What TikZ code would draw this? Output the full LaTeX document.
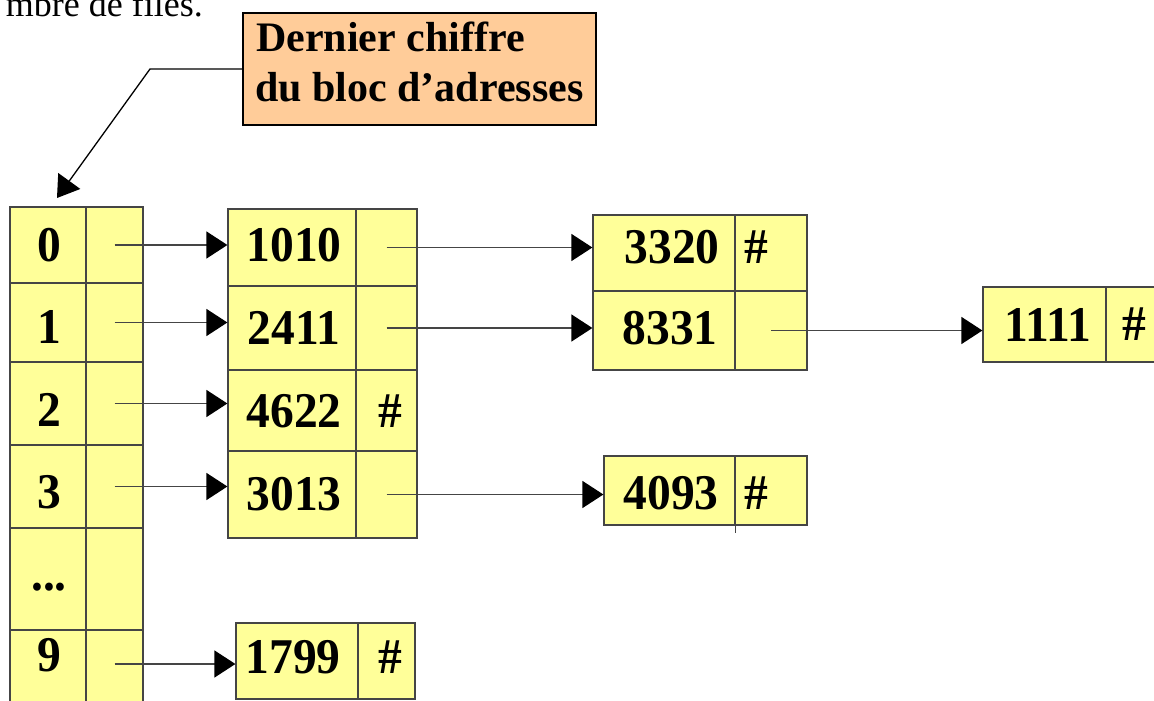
\documentclass[tikz,border=0pt]{standalone}
\usepackage{fontspec}
\setmainfont{Liberation Serif}
\newfontfamily\recfont[FakeStretch=0.95]{Liberation Serif}
\usetikzlibrary{arrows.meta}
\definecolor{recyellow}{HTML}{FFFF99}
\definecolor{calloutfill}{HTML}{FFCC99}
\definecolor{edgegray}{HTML}{454545}
\newcommand\cellnode[5]{\node[cellbox, minimum width={#4-#2}, minimum height={#5-#3}] (#1) at ({(#2+#4)/2},{(#3+#5)/2}) {};}
\begin{document}
\begin{tikzpicture}[x=1pt, y=-1pt,
  cellbox/.style={draw=edgegray, fill=recyellow, line width=1.2pt, inner sep=0pt, rectangle},
  rectxt/.style={font=\recfont\bfseries\fontsize{50}{50}\selectfont, inner sep=0pt},
  calltxt/.style={font=\bfseries\fontsize{42}{42}\selectfont, inner sep=0pt},
  link/.style={draw=edgegray, line width=1.3pt, -{Triangle[length=21pt,width=27pt,color=black]}},
  edge/.style={draw=edgegray, line width=1.2pt}]
\useasboundingbox (0,0) rectangle (1154,701);

% top line of text (cut off)
\node[anchor=base east, font=\fontsize{36}{36}\selectfont, inner sep=0pt] (topline) at (203,17) {mbre de files.};

% left table
\cellnode{t0a}{10}{207}{86}{283}\cellnode{t0b}{86}{207}{143}{283}
\cellnode{t1a}{10}{283}{86}{362}\cellnode{t1b}{86}{283}{143}{362}
\cellnode{t2a}{10}{362}{86}{445}\cellnode{t2b}{86}{362}{143}{445}
\cellnode{t3a}{10}{445}{86}{528}\cellnode{t3b}{86}{445}{143}{528}
\cellnode{t4a}{10}{528}{86}{630}\cellnode{t4b}{86}{528}{143}{630}
\cellnode{t5a}{10}{630}{86}{720}\cellnode{t5b}{86}{630}{143}{720}
\node[rectxt] (k0) at (49,245) {0};
\node[rectxt] (k1) at (49,327) {1};
\node[rectxt] (k2) at (49,410) {2};
\node[rectxt] (k3) at (49,492) {3};
\node[rectxt] (k4) at (49,587) {...};
\node[rectxt] (k9) at (49,655) {9};

% middle table
\cellnode{m0a}{228}{209}{356}{286}\cellnode{m0b}{356}{209}{417}{286}
\cellnode{m1a}{228}{286}{356}{370}\cellnode{m1b}{356}{286}{417}{370}
\cellnode{m2a}{228}{370}{356}{451}\cellnode{m2b}{356}{370}{417}{451}
\cellnode{m3a}{228}{451}{356}{538}\cellnode{m3b}{356}{451}{417}{538}
\node[rectxt] (v1010) at (294,245.5) {1010};
\node[rectxt] (v2411) at (294,328) {2411};
\node[rectxt] (v4622) at (294,411) {4622};
\node[rectxt] (h4622) at (390,411) {\#};
\node[rectxt] (v3013) at (294,494) {3013};

% 1799 block
\cellnode{na}{236}{623}{358}{699}\cellnode{nb}{358}{623}{415}{699}
\node[rectxt] (v1799) at (293,657) {1799};
\node[rectxt] (h1799) at (390,657) {\#};

% 3320 / 8331 block
\cellnode{r0a}{593}{215}{735}{291}\cellnode{r0b}{735}{215}{807}{291}
\cellnode{r1a}{593}{291}{735}{370}\cellnode{r1b}{735}{291}{807}{370}
\node[rectxt] (v3320) at (672,247) {3320};
\node[rectxt] (h3320) at (756,247) {\#};
\node[rectxt] (v8331) at (670,328) {8331};

% 4093 block
\cellnode{qa}{604}{456}{735}{525}\cellnode{qb}{735}{456}{807}{525}
\draw[edge] (qa.south east) -- ++(0,7);
\node[rectxt] (v4093) at (671,493) {4093};
\node[rectxt] (h4093) at (756,493) {\#};

% 1111 block
\cellnode{ua}{983}{287}{1106}{362}\cellnode{ub}{1106}{287}{1170}{362}
\node[rectxt] (v1111) at (1048,324.5) {1111};
\node[rectxt] (h1111) at (1134,324.5) {\#};

% links
\draw[link] (t0b.center) -- (t0b.center -| m0a.west);
\draw[link] (t1b.center) -- (t1b.center -| m1a.west);
\draw[link] (t2b.center) -- (t2b.center -| m2a.west);
\draw[link] (t3b.center) -- (t3b.center -| m3a.west);
\coordinate (s9) at (114.5,664);
\draw[link] (s9) -- (s9 -| na.west);
\draw[link] (m0b.center) -- (m0b.center -| r0a.west);
\draw[link] (m1b.center) -- (m1b.center -| r1a.west);
\draw[link] (m3b.center) -- (m3b.center -| qa.west);
\draw[link] (r1b.center) -- (r1b.center -| ua.west);

% callout
\node[draw=black, fill=calloutfill, line width=1.3pt, minimum width=353, minimum height=112, inner sep=0pt] (callout) at (419.5,69) {};
\node[calltxt, anchor=base west] (cl1) at (256,52) {Dernier chiffre};
\node[calltxt, anchor=base west] (cl2) at (255,102) {du bloc d’adresses};
\coordinate (bend) at (150,69);
\coordinate (tip) at (57,198);
\draw[link, draw=black] (callout.west) -- (bend) -- (tip);
\end{tikzpicture}
\end{document}
